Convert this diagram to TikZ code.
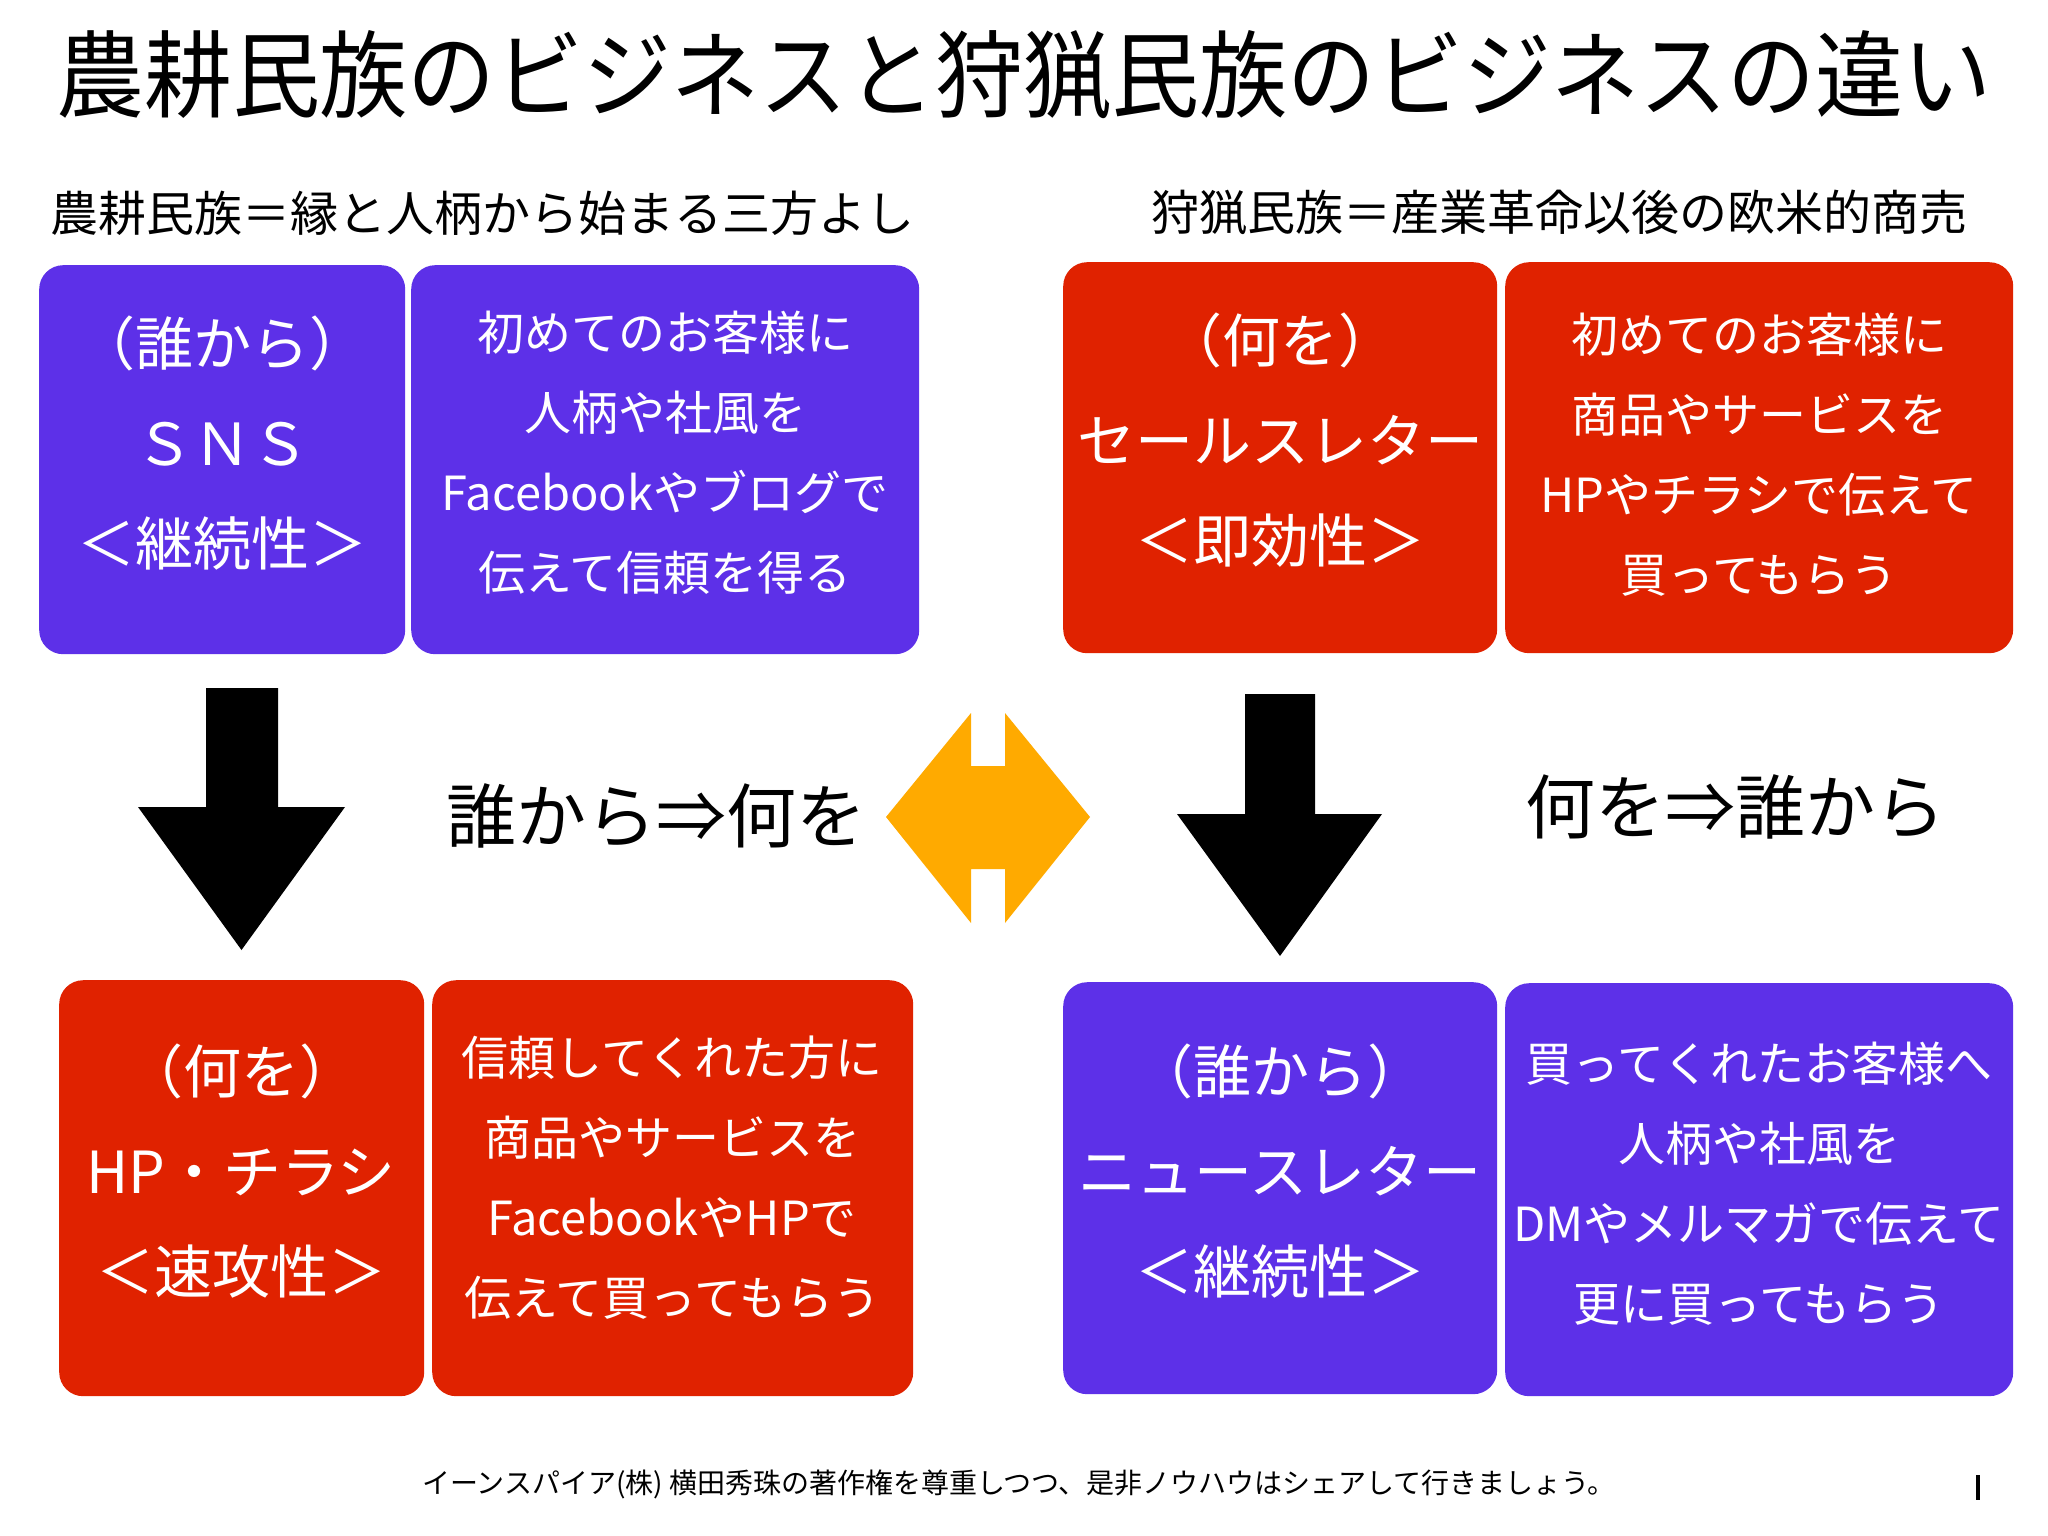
\documentclass[tikz,border=0pt]{standalone}
\usepackage{fontspec}
\setmainfont{Noto Sans CJK JP}
\definecolor{pur}{RGB}{93,48,232}
\definecolor{rd}{RGB}{224,34,0}
\definecolor{yel}{RGB}{255,170,0}
\begin{document}
\begin{tikzpicture}[x=1pt,y=-1pt,
  boxbg/.style={rounded corners=24pt, inner sep=0pt, anchor=north west},
  pbox/.style={boxbg, fill=pur},
  rbox/.style={boxbg, fill=rd},
  bigtxt/.style={text=white, align=center, inner sep=0pt, font=\fontsize{58}{100}\selectfont},
  smalltxt/.style={text=white, align=center, inner sep=0pt, font=\fontsize{47}{80}\selectfont},
  blockarrow/.style={fill=black},
]
\useasboundingbox (0,0) rectangle (2048,1536);
\fill[white] (0,0) rectangle (2048,1536);

% title and subtitles
\node (title) [font=\fontsize{88}{88}\selectfont, inner sep=0pt] at (1024,75) {\scalebox{1}[1.08]{農耕民族のビジネスと狩猟民族のビジネスの違い}};
\node (subL) [font=\fontsize{48}{48}\selectfont, inner sep=0pt] at (482,213) {農耕民族＝縁と人柄から始まる三方よし};
\node (subR) [font=\fontsize{48}{48}\selectfont, inner sep=0pt] at (1559,213) {狩猟民族＝産業革命以後の欧米的商売};

% top-left boxes
\node (tl1) [pbox, minimum width=366pt, minimum height=389pt] at (39,265) {};
\node (tl2) [pbox, minimum width=508pt, minimum height=389pt] at (411,265) {};
\node (tl1t) [bigtxt] at (222,443) {（誰から）\\ＳＮＳ\\＜継続性＞};
\node (tl2t) [smalltxt] at (665,453) {初めてのお客様に\\人柄や社風を\\Facebookやブログで\\伝えて信頼を得る};

% top-right boxes
\node (tr1) [rbox, minimum width=434pt, minimum height=391pt] at (1063,262) {};
\node (tr2) [rbox, minimum width=508pt, minimum height=391pt] at (1505,262) {};
\node (tr1t) [bigtxt] at (1280,440) {（何を）\\セールスレター\\＜即効性＞};
\node (tr2t) [smalltxt] at (1759,455) {初めてのお客様に\\商品やサービスを\\HPやチラシで伝えて\\買ってもらう};

% bottom-left boxes
\node (bl1) [rbox, minimum width=365pt, minimum height=416pt] at (59,980) {};
\node (bl2) [rbox, minimum width=481pt, minimum height=416pt] at (432,980) {};
\node (bl1t) [bigtxt] at (241,1171) {（何を）\\HP・チラシ\\＜速攻性＞};
\node (bl2t) [smalltxt] at (672,1178) {信頼してくれた方に\\商品やサービスを\\FacebookやHPで\\伝えて買ってもらう};

% bottom-right boxes
\node (br1) [pbox, minimum width=434pt, minimum height=412pt] at (1063,982) {};
\node (br2) [pbox, minimum width=508pt, minimum height=413pt] at (1505,983) {};
\node (br1t) [bigtxt] at (1280,1171) {（誰から）\\ニュースレター\\＜継続性＞};
\node (br2t) [smalltxt] at (1759,1184) {買ってくれたお客様へ\\人柄や社風を\\DMやメルマガで伝えて\\更に買ってもらう};

% block arrows
\fill[blockarrow] (206,688) -- (278,688) -- (278,807) -- (345,807) -- (241.5,950) -- (138,807) -- (206,807) -- cycle;
\fill[blockarrow] (1245,694) -- (1315,694) -- (1315,814) -- (1382,814) -- (1280,956) -- (1177,814) -- (1245,814) -- cycle;

% middle texts
\node (midL) [font=\fontsize{70}{70}\selectfont, inner sep=0pt] at (656,816) {誰から⇒何を};
\node (midR) [font=\fontsize{70}{70}\selectfont, inner sep=0pt] at (1735,807) {何を⇒誰から};

% yellow double arrow
\fill[yel] (886,817) -- (971,713) -- (971,766) -- (1005,766) -- (1005,713) -- (1090,817)
  -- (1005,923) -- (1005,869) -- (971,869) -- (971,923) -- cycle;

% footer
\node (footer) [font=\fontsize{28}{28}\selectfont, inner sep=0pt] at (1019,1484) {イーンスパイア(株) 横田秀珠の著作権を尊重しつつ、是非ノウハウはシェアして行きましょう。};
\fill[black] (1976,1475) rectangle (1980,1500);
\end{tikzpicture}
\end{document}
